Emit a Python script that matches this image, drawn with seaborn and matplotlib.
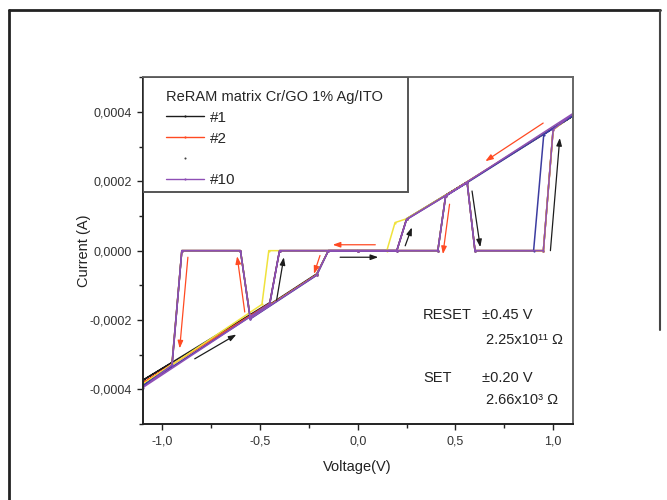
import numpy as np
import pandas as pd
import matplotlib
matplotlib.use("Agg")
import matplotlib.pyplot as plt
import seaborn as sns
from matplotlib.lines import Line2D
from matplotlib.patches import Rectangle
from matplotlib.ticker import FuncFormatter, MultipleLocator

# ==========================================
# Data (I-V sweeps, vertices of each cycle)
# ==========================================
volt_1 = [0.00, 0.20, 0.25, 0.56, 0.60, 0.95, 1.00, 1.10, 0.45, 0.41, -0.15, -0.21, -0.55, -0.60, -0.90, -0.95, -1.10, -0.45, -0.40, 0.00]
curr_1 = [0, 0, 0.92e-4, 1.98e-4, 0, 0, 3.51e-4, 3.88e-4, 1.60e-4, 0, 0, -0.67e-4, -1.92e-4, 0, 0, -3.23e-4, -3.74e-4, -1.50e-4, 0, 0]

volt_2 = [0.00, 0.20, 0.25, 0.56, 0.60, 0.95, 1.00, 1.10, 0.45, 0.41, -0.15, -0.21, -0.55, -0.60, -0.90, -0.95, -1.10, -0.45, -0.40, 0.00]
curr_2 = [0, 0, 0.91e-4, 1.97e-4, 0, 0, 3.50e-4, 3.91e-4, 1.59e-4, 0, 0, -0.69e-4, -1.94e-4, 0, 0, -3.27e-4, -3.82e-4, -1.52e-4, 0, 0]

volt_y = [0.00, 0.149, 0.191, 0.25, 0.56, 0.60, 0.95, 1.00, 1.10, 0.45, 0.41, -0.15, -0.21, -0.55, -0.60, -0.90, -0.95, -1.10, -0.49, -0.455, 0.00]
curr_y = [0, 0, 0.81e-4, 0.92e-4, 1.97e-4, 0, 0, 3.48e-4, 3.92e-4, 1.58e-4, 0, 0, -0.70e-4, -1.95e-4, 0, 0, -3.28e-4, -3.86e-4, -1.55e-4, 0, 0]

volt_b = [0.00, 0.20, 0.25, 0.56, 0.60, 0.90, 0.952, 1.10, 0.45, 0.41, -0.15, -0.21, -0.55, -0.60, -0.90, -0.95, -1.10, -0.45, -0.40, 0.00]
curr_b = [0, 0, 0.90e-4, 1.96e-4, 0, 0, 3.35e-4, 3.89e-4, 1.57e-4, 0, 0, -0.71e-4, -1.97e-4, 0, 0, -3.31e-4, -3.90e-4, -1.54e-4, 0, 0]

volt_10 = [0.00, 0.20, 0.25, 0.56, 0.60, 0.95, 1.00, 1.10, 0.45, 0.41, -0.15, -0.21, -0.55, -0.60, -0.90, -0.95, -1.10, -0.45, -0.40, 0.00]
curr_10 = [0, 0, 0.90e-4, 1.96e-4, 0, 0, 3.49e-4, 3.95e-4, 1.58e-4, 0, 0, -0.70e-4, -1.96e-4, 0, 0, -3.30e-4, -3.95e-4, -1.53e-4, 0, 0]

series = {"#1": (volt_1, curr_1), "#2": (volt_2, curr_2), "#y": (volt_y, curr_y),
          "#b": (volt_b, curr_b), "#10": (volt_10, curr_10)}
colors = {"#1": "#1c1c1c", "#2": "#ff4a22", "#y": "#f0e23c", "#b": "#3c3ca0", "#10": "#8e4fb5"}

# sweep direction arrows (x0, y0, x1, y1, colour)
arrows = [
    (-0.834, -3.12e-4, -0.621, -2.42e-4, "#1c1c1c"),
    (-0.415, -1.43e-4, -0.378, -0.19e-4, "#1c1c1c"),
    (-0.090, -0.19e-4, 0.105, -0.19e-4, "#1c1c1c"),
    (0.243, 0.14e-4, 0.277, 0.67e-4, "#1c1c1c"),
    (0.585, 1.72e-4, 0.627, 0.10e-4, "#1c1c1c"),
    (0.986, 0.0, 1.034, 3.25e-4, "#1c1c1c"),
    (0.090, 0.17e-4, -0.128, 0.17e-4, "#ff4a22"),
    (-0.193, -0.14e-4, -0.224, -0.67e-4, "#ff4a22"),
    (-0.578, -1.77e-4, -0.617, -0.16e-4, "#ff4a22"),
    (-0.869, -0.19e-4, -0.911, -2.82e-4, "#ff4a22"),
    (0.470, 1.34e-4, 0.436, -0.10e-4, "#ff4a22"),
    (0.949, 3.68e-4, 0.653, 2.58e-4, "#ff4a22"),
]

rows = []
for name, (v, i) in series.items():
    for k, (vv, ii) in enumerate(zip(v, i)):
        rows.append({"sample": name, "step": k, "V": vv, "I": ii})
df = pd.DataFrame(rows)

# ==========================================
# Plot
# ==========================================
sns.set_style("ticks")
plt.rcParams["font.family"] = ["Liberation Sans", "DejaVu Sans"]

fig = plt.figure(figsize=(6.67, 5.0), dpi=100)
ax = fig.add_axes([0.214, 0.152, 0.6446, 0.6934])

sns.lineplot(data=df, x="V", y="I", hue="sample", hue_order=list(series.keys()),
             palette=colors, sort=False, estimator=None, units="sample",
             marker="o", markersize=1.6, markeredgewidth=0, linewidth=1.1,
             legend=False, ax=ax)

for x0, y0, x1, y1, c in arrows:
    ax.annotate("", xy=(x1, y1), xytext=(x0, y0),
                arrowprops=dict(arrowstyle="-|>,head_length=0.45,head_width=0.16",
                                color=c, lw=0.9, shrinkA=0, shrinkB=0))

ax.set_xlim(-1.1, 1.1)
ax.set_ylim(-0.0005, 0.0005)
ax.xaxis.set_major_locator(MultipleLocator(0.5))
ax.xaxis.set_minor_locator(MultipleLocator(0.25))
ax.yaxis.set_major_locator(MultipleLocator(0.0002))
ax.yaxis.set_minor_locator(MultipleLocator(0.0001))
ax.xaxis.set_major_formatter(FuncFormatter(lambda v, p: f"{v:.1f}".replace(".", ",").replace("-0,0", "0,0")))
ax.yaxis.set_major_formatter(FuncFormatter(lambda v, p: ("0,0000" if abs(v) < 1e-9 else f"{v:.4f}".replace(".", ","))))
ax.tick_params(which="major", direction="out", length=4, width=1, labelsize=9, pad=4, color="#222222", labelcolor="#333333")
ax.tick_params(which="minor", direction="out", length=3, width=1, color="#222222")

for s in ["left", "bottom"]:
    ax.spines[s].set_color("#222222")
    ax.spines[s].set_linewidth(1.4)
for s in ["top", "right"]:
    ax.spines[s].set_visible(True)
    ax.spines[s].set_color("#666666")
    ax.spines[s].set_linewidth(1.4)

ax.set_xlabel("Voltage(V)", fontsize=10.5, color="#222222")
ax.set_ylabel("Current (A)", fontsize=10.5, color="#222222")
ax.xaxis.set_label_coords(0.5, -0.105)
ax.yaxis.set_label_coords(-0.12, 0.5)

# legend box in the upper left corner
ax.add_patch(Rectangle((0, 0.67), 0.617, 0.33, transform=ax.transAxes,
                       facecolor="white", edgecolor="#555555", lw=1.4, zorder=5))
handles = [
    Line2D([], [], color=colors["#1"], lw=1.0, marker="o", ms=1.6, mew=0),
    Line2D([], [], color=colors["#2"], lw=1.0, marker="o", ms=1.6, mew=0),
    Line2D([], [], color="#444444", ls="none", marker="o", ms=1.5, mew=0),
    Line2D([], [], color=colors["#10"], lw=1.0, marker="o", ms=1.6, mew=0),
]
leg = ax.legend(handles, ["#1", "#2", "", "#10"], title="ReRAM matrix Cr/GO 1% Ag/ITO",
                loc="upper left", bbox_to_anchor=(0.036, 0.986), frameon=False,
                fontsize=11, title_fontsize=10.5, borderpad=0, labelspacing=0.45,
                handlelength=2.5, handletextpad=0.4, markerfirst=True)
leg._legend_box.align = "left"
leg.set_zorder(6)

# RESET / SET annotations
txt = dict(fontsize=10.5, color="#222222", va="center", ha="left")
ax.text(0.335, -1.86e-4, "RESET", **txt)
ax.text(0.636, -1.86e-4, "±0.45 V", **txt)
ax.text(0.658, -2.58e-4, "2.25x10¹¹ Ω", **txt)
ax.text(0.335, -3.68e-4, "SET", **txt)
ax.text(0.636, -3.68e-4, "±0.20 V", **txt)
ax.text(0.658, -4.30e-4, "2.66x10³ Ω", **txt)

# outer frame of the figure
fig.add_artist(Line2D([0.014, 0.9895], [0.981, 0.981], color="#222222", lw=2.0))
fig.add_artist(Line2D([0.014, 0.014], [0.0, 0.981], color="#222222", lw=2.0))
fig.add_artist(Line2D([0.9895, 0.9895], [0.34, 0.981], color="#444444", lw=1.5))

fig.savefig("out.png", dpi=100, facecolor="white")
